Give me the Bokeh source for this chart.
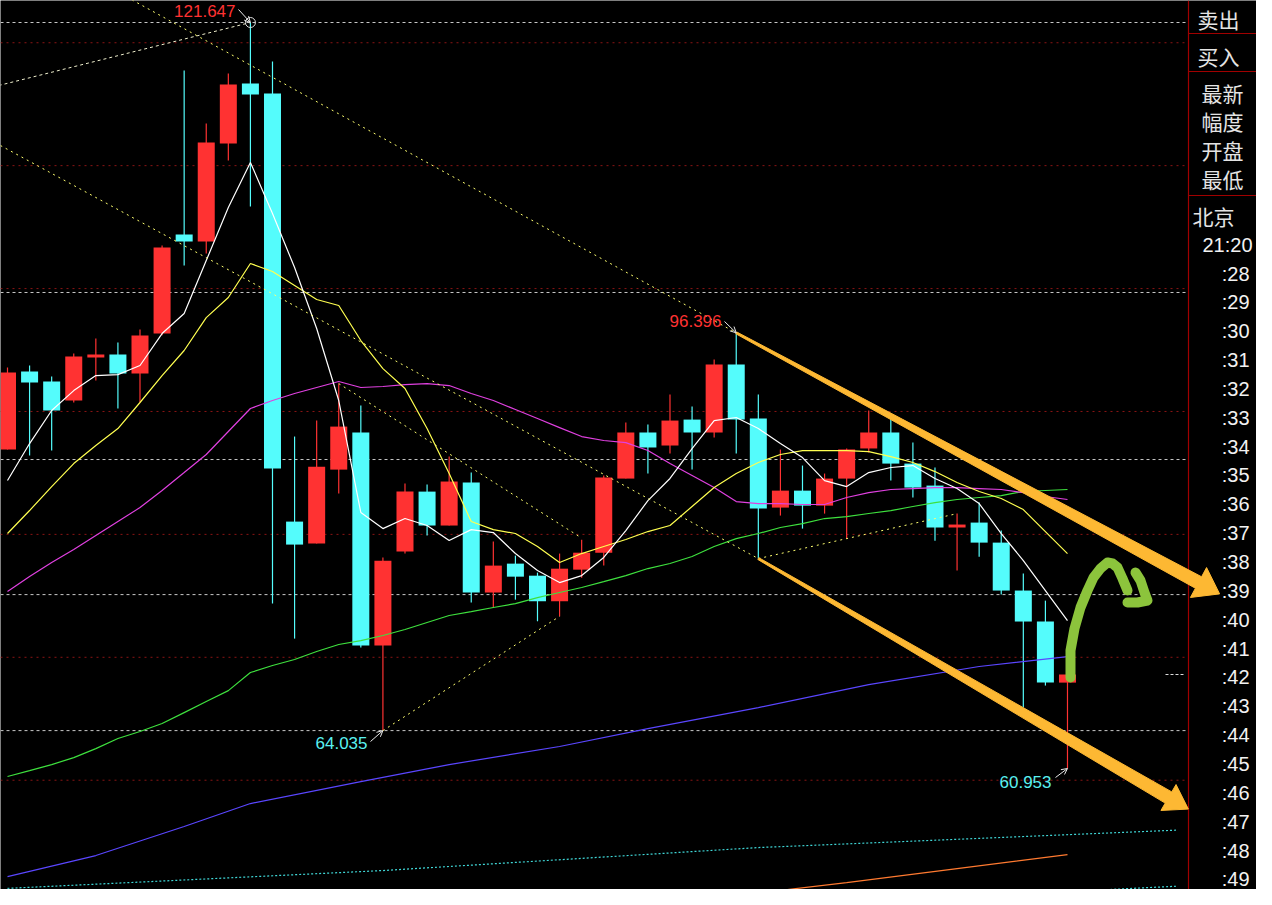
import math
from bokeh.plotting import figure
from bokeh.models import Range1d, ColumnDataSource, Arrow, OpenHead
from bokeh.core.properties import value
from bokeh.embed import file_html
from bokeh.resources import INLINE

# ---------------- data ----------------
candle_idx = list(range(49))
opens = [86.90, 93.25, 92.43, 90.89, 94.39, 94.63, 93.09, 96.34, 104.40, 103.83,
         111.80, 116.68, 115.87, 81.04, 79.25, 85.27, 88.29, 70.95, 78.60, 83.48,
         80.72, 84.22, 75.27, 77.62, 76.64, 74.56, 77.13, 78.51, 84.54, 88.29,
         87.23, 89.34, 88.29, 93.82, 89.42, 82.18, 83.56, 82.34, 84.54, 86.99,
         88.29, 85.76, 83.97, 80.56, 80.96, 79.33, 75.43, 72.91, 67.94]
highs = [93.57, 93.74, 92.84, 94.71, 95.93, 95.61, 96.67, 103.50, 117.74, 113.43,
         117.50, 121.647, 118.47, 87.96, 89.26, 92.27, 90.48, 78.11, 84.13, 84.05,
         86.33, 85.03, 79.42, 78.27, 76.89, 78.44, 79.57, 84.79, 89.10, 88.94,
         91.38, 90.40, 94.22, 96.396, 91.38, 86.90, 85.60, 84.95, 86.99, 90.07,
         89.50, 87.47, 85.44, 81.69, 82.59, 80.31, 76.81, 74.61, 68.60]
lows = [86.90, 86.41, 86.82, 90.73, 92.52, 90.24, 90.73, 96.20, 101.87, 102.85,
        110.42, 106.67, 74.37, 71.52, 79.25, 83.32, 70.79, 64.035, 78.44, 79.90,
        80.72, 74.45, 74.04, 74.69, 72.93, 73.33, 76.48, 77.46, 84.54, 84.95,
        86.58, 85.27, 87.88, 86.58, 78.03, 81.53, 80.47, 81.69, 79.65, 86.66,
        84.38, 83.00, 79.49, 77.06, 78.19, 75.10, 65.91, 67.70, 60.953]
closes = [93.17, 92.35, 90.07, 94.47, 94.63, 93.09, 96.18, 103.34, 103.83, 111.88,
          116.60, 115.79, 85.36, 79.17, 85.51, 88.77, 70.95, 77.86, 83.48, 80.72,
          84.30, 75.27, 77.46, 76.56, 74.56, 77.21, 78.51, 84.62, 88.29, 87.07,
          89.26, 88.29, 93.82, 89.34, 82.10, 83.56, 82.34, 84.54, 86.91, 88.29,
          85.76, 83.81, 80.56, 80.80, 79.33, 75.43, 72.91, 67.94, 68.60]

ma_white = [84.38, 87.39, 90.08, 91.70, 92.92, 93.00, 93.74, 96.34, 97.97, 102.28,
            106.59, 110.26, 106.11, 101.71, 96.75, 90.89, 81.78, 80.47, 81.29, 80.72,
            79.50, 80.39, 80.15, 78.44, 77.06, 76.08, 76.65, 78.12, 80.31, 82.75,
            84.55, 86.98, 89.26, 89.51, 88.61, 87.39, 86.25, 84.38, 83.89, 85.03,
            85.44, 85.60, 84.55, 83.73, 82.51, 80.07, 77.87, 75.43, 72.99]
ma_yellow = [80.07, 81.94, 83.89, 85.76, 87.23, 88.61, 90.73, 92.92, 94.96, 97.64,
             99.27, 102.04, 101.39, 100.25, 99.11, 98.62, 95.77, 93.49, 91.87, 88.61,
             84.95, 81.05, 80.39, 80.07, 79.01, 77.71, 78.44, 79.01, 79.58, 80.23,
             80.72, 82.27, 83.81, 84.95, 85.85, 86.50, 86.82, 86.82, 86.82, 86.74,
             86.33, 85.85, 85.11, 84.22, 83.49, 82.92, 82.02, 80.23, 78.44]
ma_magenta = [75.35, 76.57, 77.71, 78.77, 79.91, 81.05, 82.18, 83.57, 85.03, 86.50,
              88.37, 90.24, 90.89, 91.46, 91.95, 92.44, 91.95, 92.03, 92.19, 92.27,
              92.11, 91.46, 90.89, 90.16, 89.43, 88.69, 87.96, 87.64, 87.47, 86.82,
              85.76, 84.79, 83.81, 82.67, 82.51, 82.51, 82.43, 82.43, 83.00, 83.40,
              83.65, 83.73, 83.81, 83.81, 83.73, 83.65, 83.40, 83.08, 82.84]
ma_green = [60.30, 60.78, 61.27, 61.84, 62.57, 63.39, 63.96, 64.61, 65.50, 66.40,
            67.29, 68.76, 69.33, 69.82, 70.47, 71.04, 71.36, 71.77, 72.26, 72.83,
            73.40, 73.72, 74.05, 74.37, 74.86, 75.27, 75.68, 76.16, 76.65, 77.22,
            77.63, 78.20, 79.01, 79.66, 80.07, 80.56, 80.88, 81.29, 81.45, 81.70,
            81.94, 82.27, 82.59, 82.84, 83.00, 83.16, 83.49, 83.57, 83.65]
blue_idx = [0, 4, 8, 11, 16, 20, 25, 29, 34, 39, 44, 48]
blue_val = [52.16, 53.87, 56.23, 58.10, 59.89, 61.27, 62.74, 64.20, 65.91, 67.78, 69.25, 70.06]
orange_idx = [28, 33, 38, 43, 48]
orange_val = [49.72, 50.61, 51.67, 52.81, 53.95]
cyan1_idx = [0, 17, 34, 53]
cyan1_val = [51.20, 52.65, 54.52, 55.94]
cyan2_idx = [36, 53]
cyan2_val = [49.88, 51.38]

red_levels = [50, 60, 70, 80, 90, 100, 110, 120]
white_levels = [121.647, 99.68, 86.09, 75.10, 64.035]

# trend lines (index, price) -> (index, price)
trend_x0 = [-0.4, 4.21, -0.32, 15, 17, 34]
trend_y0 = [116.52, 124.90, 111.64, 92.27, 64.035, 78.03]
trend_x1 = [11, 33, 34, 26, 25, 43]
trend_y1 = [121.647, 96.396, 78.03, 79.70, 73.33, 81.69]

mark_labels = ["121.647", "96.396", "64.035", "60.953"]
side_labels = ["卖出", "买入", "最新", "幅度", "开盘", "最低", "北京"]
time_labels = ["21:20", ":28", ":29", ":30", ":31", ":32", ":33", ":34", ":35", ":36",
               ":37", ":38", ":39", ":40", ":41", ":42", ":43", ":44", ":45", ":46",
               ":47", ":48", ":49"]

# ---------------- layout helpers (reference pixels <-> data) ----------------
PX = 22.083
PY = 12.291
def X(px): return (px - 7.0) / PX
def Y(py): return 121.647 - (py - 22.0) / PY
def PXx(i): return 7.0 + i * PX
def PYy(v): return 22.0 + (121.647 - v) * PY

UP = "#ff3232"
DN = "#54fcfc"

p = figure(width=1256, height=889,
           x_range=Range1d(X(0), X(1256)), y_range=Range1d(Y(889), Y(0)),
           output_backend="svg", toolbar_location=None,
           x_axis_location=None, y_axis_location=None, min_border=0,
           background_fill_color="black", border_fill_color="black",
           outline_line_color=None)
p.grid.visible = False

RIGHT = X(1188)
LEFT = X(0)
# grid lines
p.segment(x0=[LEFT]*len(red_levels), y0=red_levels, x1=[RIGHT]*len(red_levels), y1=red_levels,
          line_color="#8a1414", line_width=1, line_dash="2 4")
p.segment(x0=[LEFT]*len(white_levels), y0=white_levels, x1=[RIGHT]*len(white_levels), y1=white_levels,
          line_color="#c8c8c8", line_width=1, line_dash="3 3")

# candles
colors = [UP if c > o else DN for o, c in zip(opens, closes)]
src = ColumnDataSource(dict(x=candle_idx, h=highs, l=lows,
                            top=[max(o, c) for o, c in zip(opens, closes)],
                            bottom=[min(o, c) for o, c in zip(opens, closes)],
                            color=colors))
p.segment(x0="x", y0="l", x1="x", y1="h", line_color="color", line_width=1.2, source=src)
p.vbar(x="x", width=0.77, top="top", bottom="bottom", fill_color="color",
       line_color=None, source=src)

# moving averages
p.line(candle_idx, ma_green, line_color="#3ee03e", line_width=1.2)
p.line(candle_idx, ma_magenta, line_color="#e040e0", line_width=1.2)
p.line(candle_idx, ma_yellow, line_color="#ffff50", line_width=1.2)
p.line(candle_idx, ma_white, line_color="#ffffff", line_width=1.2)
p.line(blue_idx, blue_val, line_color="#5a46ff", line_width=1.2)
p.line(orange_idx, orange_val, line_color="#ff7a30", line_width=1.2)
p.line(cyan1_idx, cyan1_val, line_color="#3fd6d6", line_width=1.2, line_dash="2 2")
p.line(cyan2_idx, cyan2_val, line_color="#3fd6d6", line_width=1.2, line_dash="2 2")

# trend lines (dotted)
p.segment(x0=trend_x0[:1], y0=trend_y0[:1], x1=trend_x1[:1], y1=trend_y1[:1],
          line_color="#eeeecc", line_width=1, line_dash="3 3")
p.segment(x0=trend_x0[1:], y0=trend_y0[1:], x1=trend_x1[1:], y1=trend_y1[1:],
          line_color="#ffff70", line_width=1, line_dash="2 4")

# current price marker
p.segment(x0=[X(1165)], y0=[closes[-1]], x1=[X(1183)], y1=[closes[-1]],
          line_color="#dddddd", line_width=1, line_dash="3 2")

# extreme value labels
mark_x = [X(235), X(721), X(367), X(1051)]
mark_y = [Y(10), Y(320), Y(742), Y(781)]
mark_c = [UP, UP, "#5af0f0", "#5af0f0"]
p.text(x=mark_x, y=mark_y, text=mark_labels, text_color=mark_c,
       text_align="right", text_baseline="middle",
       text_font=value("Liberation Sans"), text_font_size="17px")
arrow_pts = [((238, 9), (PXx(11), highs[11])), ((724, 321), (PXx(33), highs[33])),
             ((370, 741), (PXx(17), lows[17])), ((1055, 777), (PXx(48), lows[48]))]
for (sx, sy), (ex, ev) in arrow_pts:
    p.add_layout(Arrow(x_start=X(sx), y_start=Y(sy), x_end=X(ex), y_end=ev,
                       line_color="#e8e8e8", line_width=1,
                       end=OpenHead(size=6, line_color="#e8e8e8", line_width=1)))
p.scatter([11], [highs[11]], marker="circle", size=10, fill_color=None,
          line_color="#e0e0e0", line_width=1)

# right panel
p.segment(x0=[RIGHT], y0=[Y(0)], x1=[RIGHT], y1=[Y(905)], line_color="#a00000", line_width=1.2)
sep_y = [Y(33), Y(71), Y(195)]
p.segment(x0=[RIGHT]*3, y0=sep_y, x1=[X(1272)]*3, y1=sep_y, line_color="#a00000", line_width=1.2)
side_x = [X(1197), X(1197), X(1201), X(1201), X(1201), X(1201), X(1192)]
side_y = [Y(18), Y(55), Y(92), Y(120), Y(149), Y(178), Y(215)]
p.text(x=side_x, y=side_y, text=side_labels, text_color="#e4e4e4",
       text_align="left", text_baseline="middle",
       text_font=value("Noto Sans CJK SC"), text_font_size="21px")
time_x = [X(1252)] + [X(1249)] * (len(time_labels) - 1)
time_y = [Y(244)] + [Y(273 + 28.85 * k) for k in range(len(time_labels) - 1)]
p.text(x=time_x, y=time_y, text=time_labels, text_color="#f2f2f2",
       text_align="right", text_baseline="middle",
       text_font=value("Liberation Sans"), text_font_size="20px")

# orange hand-drawn arrows
def arrow_patch(xa, ya, xb, yb, wa, wb, hw, hl):
    dx, dy = xb - xa, yb - ya
    L = math.hypot(dx, dy)
    ux, uy = dx / L, dy / L
    nx, ny = -uy, ux
    pts = [(xa + nx * wa / 2, ya + ny * wa / 2),
           (xb + nx * wb / 2, yb + ny * wb / 2),
           (xb + nx * hw, yb + ny * hw),
           (xb + ux * hl, yb + uy * hl),
           (xb - nx * hw, yb - ny * hw),
           (xb - nx * wb / 2, yb - ny * wb / 2),
           (xa - nx * wa / 2, ya - ny * wa / 2)]
    return [X(q[0]) for q in pts], [Y(q[1]) for q in pts]

ax, ay = arrow_patch(PXx(33), PYy(highs[33]), 1198, 582, 2, 13, 17, 24)
p.patch(ax, ay, fill_color="#fdb833", line_color="#fdb833", line_width=1)
ax, ay = arrow_patch(PXx(34), PYy(lows[34]), 1168, 797, 2, 13, 15, 23)
p.patch(ax, ay, fill_color="#fdb833", line_color="#fdb833", line_width=1)

# green hand-drawn stroke
g1 = [(1070, 677), (1070, 650), (1074, 628), (1080, 607), (1087, 590), (1093, 577),
      (1100, 568), (1107, 562), (1112, 563), (1117, 567), (1122, 578), (1127, 590)]
g2 = [(1135, 572), (1140, 580), (1144, 592), (1147, 600), (1137, 602), (1127, 602)]
p.multi_line(xs=[[X(a) for a, b in g1], [X(a) for a, b in g2]],
             ys=[[Y(b) for a, b in g1], [Y(b) for a, b in g2]],
             line_color="#8cc43c", line_width=10, line_cap="round", line_join="round")

open("out.html", "w").write(file_html(p, INLINE))
